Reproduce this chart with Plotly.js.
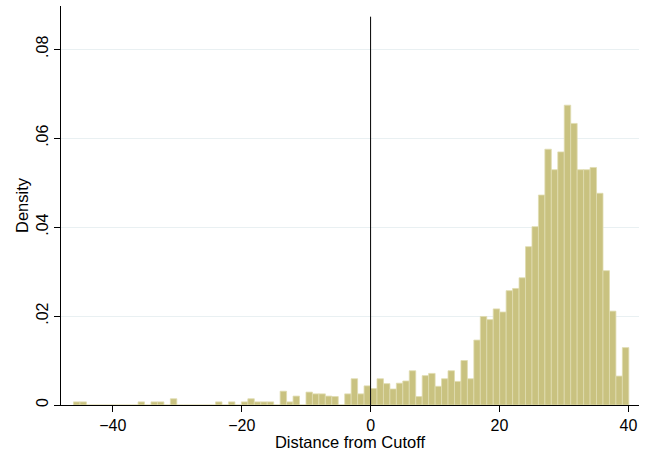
<!DOCTYPE html>
<html>
<head>
<meta charset="utf-8">
<script src="https://cdn.plot.ly/plotly-3.0.1.min.js"></script>
<style>
html,body{margin:0;padding:0;background:#fff;}
#chart{width:654px;height:451px;}
</style>
</head>
<body>
<div id="chart"></div>
<script>
// Histogram of distance from cutoff (density), bins of ~1 unit
const binStart = -46.1;
const binWidth = 1.002;
const density = [
  0.0007, 0.0007, 0, 0, 0, 0, 0, 0, 0, 0,
  0.0007, 0, 0.0007, 0.0007, 0, 0.0014, 0, 0, 0, 0,
  0, 0, 0.0007, 0, 0.0007, 0, 0.0007, 0.0014, 0.0007, 0.0007,
  0.0007, 0, 0.0031, 0.0007, 0.0020, 0, 0.0029, 0.0025, 0.0025, 0.0020,
  0.0019, 0, 0.0025, 0.0059, 0.0025, 0.0043, 0.0037, 0.0059, 0.0048, 0.0036,
  0.0049, 0.0054, 0.0077, 0.0019, 0.0066, 0.0071, 0.0042, 0.0059, 0.0077, 0.0053,
  0.0100, 0.0059, 0.0146, 0.0199, 0.0192, 0.0216, 0.0209, 0.0257, 0.0262, 0.0286,
  0.0356, 0.0401, 0.0472, 0.0575, 0.0529, 0.0569, 0.0674, 0.0633, 0.0529, 0.0529,
  0.0534, 0.0476, 0.0302, 0.0211, 0.0065, 0.0129
];
const xTickVals = [-40, -20, 0, 20, 40];
const xTickText = ['\u221240', '\u221220', '0', '20', '40'];
const yTickVals = [0, 0.02, 0.04, 0.06, 0.08];
const yTickText = ['0', '.02', '.04', '.06', '.08'];
const cutoff = 0;
const cutoffLineTop = 0.0873;
const xTitle = 'Distance from Cutoff';
const yTitle = 'Density';

const centers = density.map((_, i) => binStart + (i + 0.5) * binWidth);

const trace = {
  type: 'bar',
  x: centers,
  y: density,
  width: binWidth,
  marker: {color: 'rgb(201,194,128)', line: {color: 'rgb(224,220,176)', width: 0.8}},
  hoverinfo: 'x+y'
};

const font = {family: '"Liberation Sans", Arial, sans-serif', color: '#000'};

const layout = {
  width: 654, height: 451,
  margin: {l: 61, r: 15, t: 6, b: 46, pad: 0},
  paper_bgcolor: '#fff', plot_bgcolor: '#fff',
  bargap: 0,
  showlegend: false,
  font: Object.assign({size: 16}, font),
  xaxis: {
    range: [-48.04, 41.65],
    tickvals: xTickVals, ticktext: xTickText,
    ticks: 'outside', ticklen: 6, tickwidth: 1, tickcolor: '#000',
    showline: true, linecolor: '#000', linewidth: 1,
    showgrid: false, zeroline: false,
    tickfont: Object.assign({size: 16}, font),
    title: {text: xTitle, font: Object.assign({size: 16.5}, font), standoff: 2}
  },
  yaxis: {
    range: [0, 0.0897],
    tickvals: yTickVals, ticktext: yTickText,
    tickangle: -90,
    ticks: 'outside', ticklen: 6, tickwidth: 1, tickcolor: '#000',
    showline: true, linecolor: '#000', linewidth: 1,
    showgrid: true, gridcolor: '#e9f0f2', gridwidth: 1,
    zeroline: false,
    tickfont: Object.assign({size: 16}, font),
    title: {text: yTitle, font: Object.assign({size: 16.5}, font), standoff: 0}
  },
  shapes: [{
    type: 'line', xref: 'x', yref: 'y',
    x0: cutoff, x1: cutoff, y0: 0, y1: cutoffLineTop,
    line: {color: '#000', width: 1}
  }]
};

Plotly.newPlot('chart', [trace], layout, {displayModeBar: false, staticPlot: true});
</script>
</body>
</html>
